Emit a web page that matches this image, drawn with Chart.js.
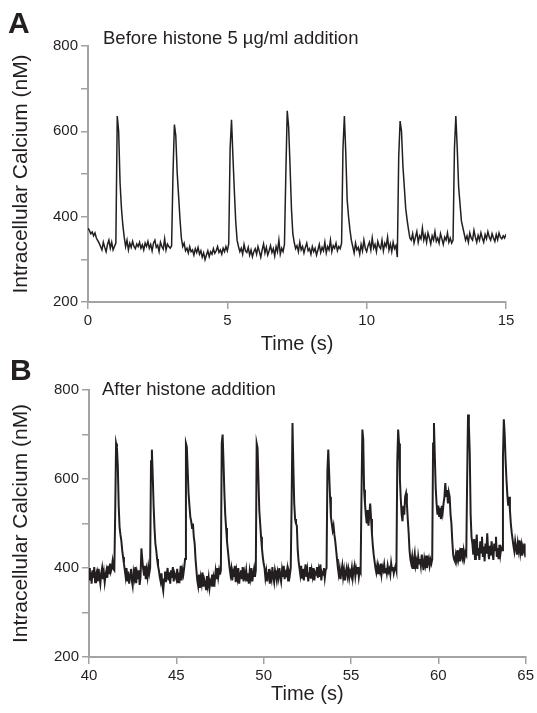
<!DOCTYPE html>
<html>
<head>
<meta charset="utf-8">
<script src="https://cdn.jsdelivr.net/npm/chart.js@4"></script>
<style>
  body { margin: 0; background: #fff; width: 537px; height: 713px; position: relative; overflow: hidden;
         font-family: "Liberation Sans", Arial, sans-serif; color: #231f20; }
  canvas { position: absolute; left: 0; }
  .lbl { position: absolute; white-space: nowrap; line-height: 1; }
</style>
</head>
<body>
<canvas id="chartA" style="top:0" width="537" height="360"></canvas>
<canvas id="chartB" style="top:360px" width="537" height="353"></canvas>

<div class="lbl" style="left:8px;top:8px;font-size:30px;font-weight:bold">A</div>
<div class="lbl" style="left:103px;top:28.5px;font-size:18.5px">Before histone 5 µg/ml addition</div>
<div class="lbl" style="left:10px;top:355px;font-size:30px;font-weight:bold">B</div>
<div class="lbl" style="left:102px;top:379.5px;font-size:18.5px">After histone addition</div>

<script>
// sampled traces, one value every 0.05 s
const startA = 0, stepA = 0.05;
const calciumA = [
  373, 368, 360, 364, 355, 362, 350, 344, 338, 330, 322, 340, 328, 318, 335, 345, 326, 340, 322, 330,
  338, 636, 600, 480, 420, 380, 352, 330, 345, 322, 338, 328, 342, 330, 325, 336, 330, 340, 326, 334,
  322, 338, 330, 342, 326, 335, 320, 338, 345, 328, 333, 318, 340, 330, 324, 348, 322, 336, 330, 326,
  332, 500, 616, 590, 503, 450, 395, 350, 330, 338, 320, 326, 315, 330, 318, 322, 310, 325, 316, 328,
  312, 320, 305, 315, 299, 310, 320, 306, 318, 312, 325, 314, 320, 330, 316, 322, 312, 326, 318, 330,
  320, 336, 560, 627, 542, 463, 390, 345, 330, 318, 326, 312, 335, 320, 316, 328, 310, 322, 306, 318,
  325, 312, 330, 318, 305, 322, 336, 315, 328, 310, 320, 332, 316, 325, 308, 330, 318, 345, 312, 326,
  318, 335, 503, 648, 610, 520, 420, 360, 340, 325, 332, 318, 340, 322, 330, 315, 328, 338, 320, 325,
  312, 330, 318, 326, 310, 322, 335, 316, 328, 320, 340, 315, 330, 322, 345, 318, 332, 326, 338, 320,
  330, 325, 338, 560, 636, 550, 440, 400, 369, 345, 330, 315, 338, 322, 328, 312, 335, 320, 345, 326,
  318, 332, 340, 322, 350, 326, 335, 318, 342, 330, 325, 345, 320, 338, 330, 352, 322, 336, 318, 340,
  325, 332, 305, 540, 624, 600, 520, 470, 420, 393, 370, 350, 345, 360, 338, 352, 365, 340, 355, 348,
  373, 345, 358, 340, 362, 350, 336, 355, 345, 365, 342, 350, 338, 360, 348, 335, 352, 345, 362, 340,
  350, 338, 345, 560, 636, 560, 470, 430, 390, 375, 360, 345, 355, 340, 362, 350, 345, 368, 352, 340,
  356, 345, 362, 350, 340, 358, 348, 365, 352, 345, 360, 350, 342, 358, 346, 362, 352, 348, 355, 350,
  359
];

const startB = 40, stepB = 0.05;
const calciumB = [
  400, 372, 390, 365, 395, 378, 402, 368, 385, 392, 370, 398, 380, 365, 388, 400, 375, 390, 368, 385,
  395, 378, 405, 388, 410, 392, 400, 415, 398, 395, 523, 680, 670, 628, 540, 492, 475, 462, 440, 425,
  410, 395, 380, 400, 370, 392, 365, 385, 398, 372, 360, 390, 378, 402, 366, 388, 375, 395, 362, 380,
  444, 420, 398, 385, 405, 375, 395, 380, 402, 388, 400, 640, 666, 606, 540, 490, 455, 440, 420, 405,
  395, 380, 370, 388, 362, 349, 375, 392, 368, 385, 400, 372, 390, 365, 395, 378, 402, 370, 388, 382,
  375, 398, 368, 390, 380, 405, 372, 395, 385, 400, 420, 680, 672, 620, 568, 540, 515, 505, 490, 500,
  470, 455, 420, 395, 372, 360, 385, 355, 378, 365, 390, 358, 375, 368, 352, 382, 362, 378, 355, 370,
  365, 385, 360, 378, 370, 392, 375, 400, 380, 395, 385, 395, 680, 700, 640, 570, 520, 490, 460, 440,
  420, 400, 385, 398, 372, 390, 380, 405, 368, 392, 378, 400, 365, 388, 395, 375, 402, 370, 390, 380,
  395, 372, 388, 365, 392, 378, 400, 370, 385, 398, 380, 395, 680, 670, 600, 530, 500, 470, 445, 425,
  410, 400, 378, 392, 370, 388, 398, 365, 385, 375, 402, 380, 368, 395, 385, 372, 390, 378, 400, 382,
  370, 395, 380, 405, 375, 390, 385, 398, 372, 392, 385, 400, 545, 726, 628, 545, 510, 500, 495, 440,
  415, 400, 385, 405, 378, 398, 372, 392, 408, 380, 395, 370, 388, 402, 376, 395, 382, 400, 372, 390,
  385, 402, 378, 395, 380, 408, 372, 390, 385, 400, 378, 395, 400, 620, 666, 613, 560, 515, 500, 485,
  495, 475, 460, 440, 420, 400, 385, 398, 375, 392, 405, 380, 395, 372, 390, 400, 382, 396, 378, 392,
  385, 400, 378, 395, 405, 382, 398, 388, 402, 380, 395, 390, 560, 711, 690, 576, 545, 520, 500, 530,
  495, 520, 545, 510, 477, 450, 430, 415, 400, 390, 405, 388, 400, 392, 410, 386, 402, 395, 408, 390,
  400, 388, 405, 392, 398, 386, 410, 395, 402, 388, 398, 405, 395, 640, 711, 680, 600, 555, 520, 505,
  540, 520, 560, 568, 545, 510, 480, 440, 420, 410, 425, 400, 418, 432, 405, 415, 398, 425, 410, 420,
  405, 430, 412, 395, 420, 408, 428, 400, 415, 422, 405, 418, 410, 420, 680, 726, 650, 580, 545, 520,
  540, 515, 535, 510, 540, 525, 545, 560, 591, 560, 575, 545, 570, 560, 520, 500, 460, 430, 420, 415,
  430, 418, 440, 420, 432, 415, 445, 425, 418, 438, 422, 435, 430, 600, 745, 720, 659, 520, 470, 455,
  430, 465, 420, 450, 475, 428, 445, 418, 460, 435, 470, 425, 448, 415, 455, 432, 478, 440, 420, 450,
  428, 460, 435, 418, 455, 440, 470, 425, 445, 420, 452, 430, 445, 440, 650, 734, 700, 643, 600, 565,
  540, 560, 530, 500, 480, 465, 450, 438, 460, 445, 430, 455, 440, 462, 435, 450, 428, 448, 440, 455,
  424
];

const yTickMarks = [200, 300, 400, 500, 600, 700, 800];
const yTickLabels = [200, 400, 600, 800];
const xTicksA = [0, 5, 10, 15];
const xTicksB = [40, 45, 50, 55, 60, 65];

const FONT = '"Liberation Sans", Arial, sans-serif';
const AXIS = '#a3a3a3';
const INK = '#231f20';

function toPoints(start, step, values) {
  return values.map((v, i) => ({ x: +(start + i * step).toFixed(2), y: v }));
}

function makeChart(id, points, xTicks, box) {
  const ctx = document.getElementById(id).getContext('2d');
  return new Chart(ctx, {
    type: 'line',
    data: {
      datasets: [{
        data: points,
        borderColor: INK,
        borderWidth: box.lineWidth,
        pointRadius: 0,
        tension: 0,
        fill: false
      }]
    },
    options: {
      responsive: false,
      animation: false,
      events: [],
      layout: { padding: { top: box.top, right: box.right, left: 0, bottom: 0 } },
      plugins: { legend: { display: false }, tooltip: { enabled: false } },
      scales: {
        x: {
          type: 'linear',
          min: xTicks[0],
          max: xTicks[xTicks.length - 1],
          afterBuildTicks: s => { s.ticks = xTicks.map(v => ({ value: v })); },
          afterFit: s => { s.height = box.xHeight; },
          border: { color: AXIS, width: 2 },
          grid: { drawOnChartArea: false, color: AXIS, lineWidth: 1.5, tickLength: 7 },
          ticks: { color: INK, font: { family: FONT, size: 15 }, padding: 3, maxRotation: 0 },
          title: { display: true, text: 'Time (s)', color: INK,
                   font: { family: FONT, size: 20 }, padding: { top: 0, bottom: box.titlePad } }
        },
        y: {
          min: 200,
          max: 800,
          afterBuildTicks: s => { s.ticks = yTickMarks.map(v => ({ value: v })); },
          afterFit: s => { s.width = box.yWidth; },
          border: { color: AXIS, width: 2 },
          grid: { drawOnChartArea: false, color: AXIS, lineWidth: 1.5, tickLength: 7 },
          ticks: {
            color: INK, font: { family: FONT, size: 15 }, padding: 3,
            callback: v => yTickLabels.includes(v) ? String(v) : ''
          },
          title: { display: true, text: 'Intracellular Calcium (nM)', color: INK,
                   font: { family: FONT, size: 21 }, padding: { top: 9, bottom: 0 } }
        }
      }
    }
  });
}

makeChart('chartA', toPoints(startA, stepA, calciumA), xTicksA,
  { top: 46, right: 31, xHeight: 58, yWidth: 88, titlePad: 4, lineWidth: 1.5 });
makeChart('chartB', toPoints(startB, stepB, calciumB), xTicksB,
  { top: 30, right: 9, xHeight: 56, yWidth: 89, titlePad: 7, lineWidth: 2 });
</script>
</body>
</html>
